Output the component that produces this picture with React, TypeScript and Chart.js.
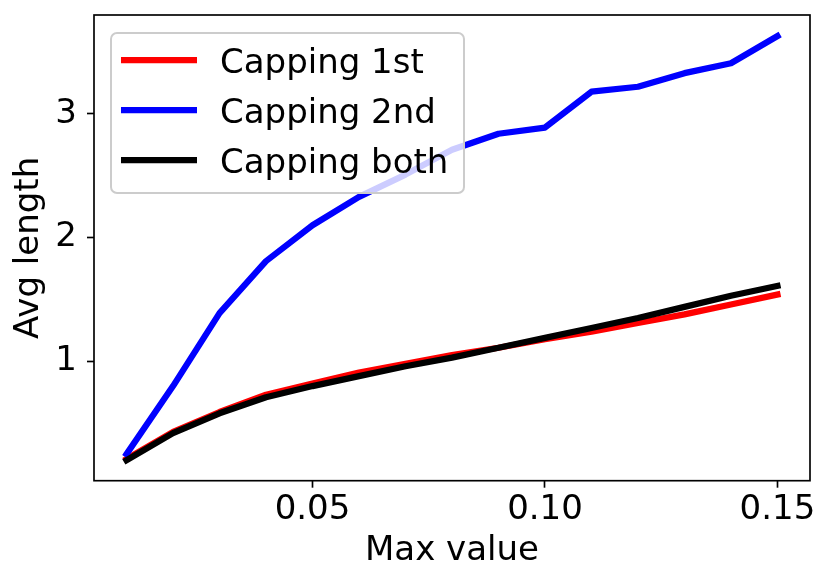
import React, { useEffect, useRef } from "react";
import { Chart, registerables } from "chart.js";

Chart.register(...registerables);

const maxValues = [0.01, 0.02, 0.03, 0.04, 0.05, 0.06, 0.07, 0.08, 0.09, 0.1, 0.11, 0.12, 0.13, 0.14, 0.15];
const capping1st = [0.21, 0.43, 0.59, 0.73, 0.82, 0.91, 0.98, 1.05, 1.11, 1.18, 1.24, 1.31, 1.38, 1.46, 1.54];
const capping2nd = [0.25, 0.8, 1.39, 1.81, 2.1, 2.33, 2.51, 2.71, 2.84, 2.89, 3.18, 3.22, 3.33, 3.41, 3.63];
const cappingBoth = [0.2, 0.42, 0.58, 0.71, 0.8, 0.88, 0.96, 1.03, 1.11, 1.19, 1.27, 1.35, 1.44, 1.53, 1.61];
const seriesLabels = ["Capping 1st", "Capping 2nd", "Capping both"];
const seriesColors = ["#ff0000", "#0000ff", "#000000"];
const xTicks = [0.05, 0.1, 0.15];
const yTicks = [1, 2, 3];

const FONT = "DejaVu Sans";
const FS = 34;

const framePlugin = {
  id: "frameAndLegend",
  afterDatasetsDraw(chart: any) {
    const { ctx, chartArea } = chart;
    ctx.save();
    ctx.strokeStyle = "#000";
    ctx.lineWidth = 1.67;
    ctx.strokeRect(chartArea.left, chartArea.top, chartArea.right - chartArea.left, chartArea.bottom - chartArea.top);
    const bx = 111, by = 33, bw = 353, bh = 160, r = 6;
    ctx.beginPath();
    ctx.moveTo(bx + r, by);
    ctx.lineTo(bx + bw - r, by);
    ctx.arcTo(bx + bw, by, bx + bw, by + r, r);
    ctx.lineTo(bx + bw, by + bh - r);
    ctx.arcTo(bx + bw, by + bh, bx + bw - r, by + bh, r);
    ctx.lineTo(bx + r, by + bh);
    ctx.arcTo(bx, by + bh, bx, by + bh - r, r);
    ctx.lineTo(bx, by + r);
    ctx.arcTo(bx, by, bx + r, by, r);
    ctx.closePath();
    ctx.fillStyle = "rgba(255,255,255,0.8)";
    ctx.fill();
    ctx.strokeStyle = "#cccccc";
    ctx.lineWidth = 2;
    ctx.stroke();
    chart.data.datasets.forEach((ds: any, i: number) => {
      const cy = 60 + i * 50;
      ctx.beginPath();
      ctx.moveTo(121, cy);
      ctx.lineTo(197, cy);
      ctx.strokeStyle = ds.borderColor;
      ctx.lineWidth = 6.25;
      ctx.lineCap = "butt";
      ctx.stroke();
      ctx.fillStyle = "#000";
      ctx.font = `${FS}px "${FONT}"`;
      ctx.textAlign = "left";
      ctx.textBaseline = "alphabetic";
      ctx.fillText(ds.label, 220, cy + 12.5);
    });
    ctx.restore();
  },
};

export default function App() {
  const ref = useRef<HTMLCanvasElement>(null);
  useEffect(() => {
    document.body.style.margin = "0";
    const seriesData = [capping1st, capping2nd, cappingBoth];
    const chart = new Chart(ref.current as HTMLCanvasElement, {
      type: "line",
      data: {
        datasets: seriesData.map((vals, i) => ({
          label: seriesLabels[i],
          data: maxValues.map((x, j) => ({ x, y: vals[j] })),
          borderColor: seriesColors[i],
          backgroundColor: seriesColors[i],
          borderWidth: 6.25,
          pointRadius: 0,
          tension: 0,
          fill: false,
          borderCapStyle: "square",
          borderJoinStyle: "round",
          order: 3 - i,
        })),
      },
      options: {
        animation: false,
        responsive: false,
        devicePixelRatio: 1,
        layout: { padding: { top: 15, right: 22, left: 0, bottom: 0 } },
        plugins: { legend: { display: false }, tooltip: { enabled: false } },
        scales: {
          x: {
            type: "linear",
            min: 0.003,
            max: 0.157,
            afterBuildTicks: (s: any) => {
              s.ticks = xTicks.map((v) => ({ value: v }));
            },
            afterFit: (s: any) => {
              s.height = 105.3;
              s.paddingLeft = 0;
              s.paddingRight = 0;
            },
            ticks: {
              color: "#000",
              font: { family: FONT, size: FS },
              padding: 2,
              maxRotation: 0,
              autoSkip: false,
              callback: (v: any) => Number(v).toFixed(2),
            },
            grid: { drawOnChartArea: false, drawTicks: true, tickLength: 7, tickColor: "#000", tickWidth: 1.67 },
            border: { display: false },
            title: { display: true, text: "Max value", color: "#000", font: { family: FONT, size: FS }, padding: { top: 0, bottom: 14 } },
          },
          y: {
            type: "linear",
            min: 0.035,
            max: 3.8,
            afterBuildTicks: (s: any) => {
              s.ticks = yTicks.map((v) => ({ value: v }));
            },
            afterFit: (s: any) => {
              s.width = 94;
              s.paddingTop = 0;
              s.paddingBottom = 0;
            },
            ticks: {
              color: "#000",
              font: { family: FONT, size: FS },
              padding: 10,
              autoSkip: false,
              callback: (v: any) => String(v),
            },
            grid: { drawOnChartArea: false, drawTicks: true, tickLength: 7, tickColor: "#000", tickWidth: 1.67 },
            border: { display: false },
            title: { display: true, text: "Avg length", color: "#000", font: { family: FONT, size: FS }, padding: { top: 9, bottom: 0 } },
          },
        },
      },
      plugins: [framePlugin],
    } as any);
    return () => chart.destroy();
  }, []);
  return (
    <div style={{ position: "fixed", left: 0, top: 0, width: 832, height: 586, background: "#fff" }}>
      <canvas ref={ref} width={832} height={586} style={{ width: 832, height: 586, display: "block" }} />
    </div>
  );
}
